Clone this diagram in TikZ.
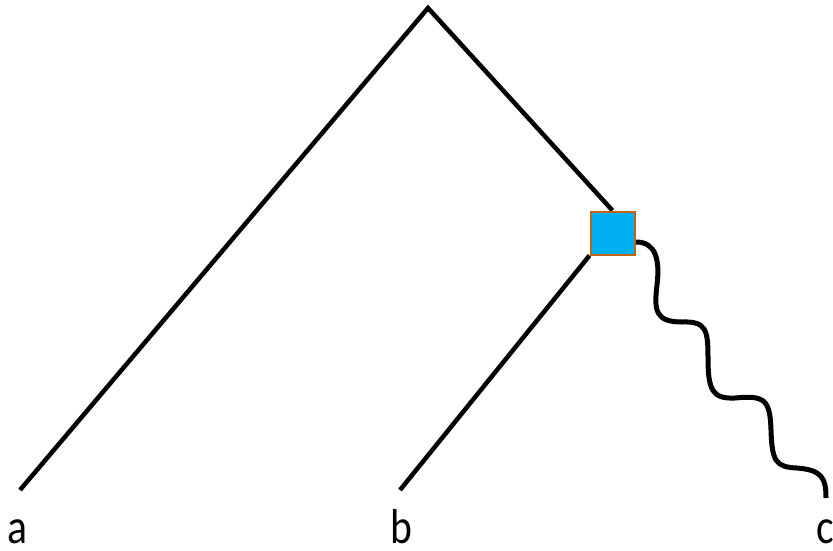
\documentclass[tikz,border=0pt]{standalone}
\usepackage{fontspec}
\setmainfont{Carlito}
\usetikzlibrary{backgrounds}
\definecolor{sqfill}{RGB}{0,176,240}
\definecolor{sqedge}{RGB}{190,100,20}
\tikzset{
  branch/.style={line width=4.5pt, black},
  wavy/.style={line width=5pt, black},
  dupbox/.style={rectangle, draw=sqedge, fill=sqfill, line width=2pt, minimum width=44pt, minimum height=43pt, inner sep=0pt},
  leaf/.style={anchor=base, inner sep=0pt, font=\fontsize{49}{56}\selectfont}
}
\begin{document}
\begin{tikzpicture}[x=1pt,y=-1pt]
\useasboundingbox (0,0) rectangle (833,550);
\coordinate (apex) at (428,8);
\coordinate (ea) at (20,490);
\coordinate (eb) at (400,490);
\coordinate (w0) at (636,242);
\coordinate (ec) at (826,498);
\node[dupbox] (sq) at (612.5,233) {};
\node[leaf] (la) at (17,543) {\scalebox{0.85}[1]{a}};
\node[leaf] (lb) at (401,543) {\scalebox{0.85}[1]{b}};
\node[leaf] (lc) at (825,543) {\scalebox{0.85}[1]{c}};
\begin{scope}[on background layer]
\draw[branch] (ea) -- (apex) -- (sq.north);
\draw[branch] (eb) -- (sq.south west);
\draw[wavy] (sq.east |- w0) -- (w0)
  .. controls (656,242) and (660,260) .. (657,285)
  .. controls (654,310) and (655,322) .. (682,322)
  .. controls (706,321) and (708,330) .. (708,357)
  .. controls (708,390) and (712,399) .. (735,398)
  .. controls (765,395) and (770,400) .. (771,430)
  .. controls (772,462) and (776,467) .. (797,468)
  .. controls (822,470) and (826,478) .. (ec);
\end{scope}
\end{tikzpicture}
\end{document}
